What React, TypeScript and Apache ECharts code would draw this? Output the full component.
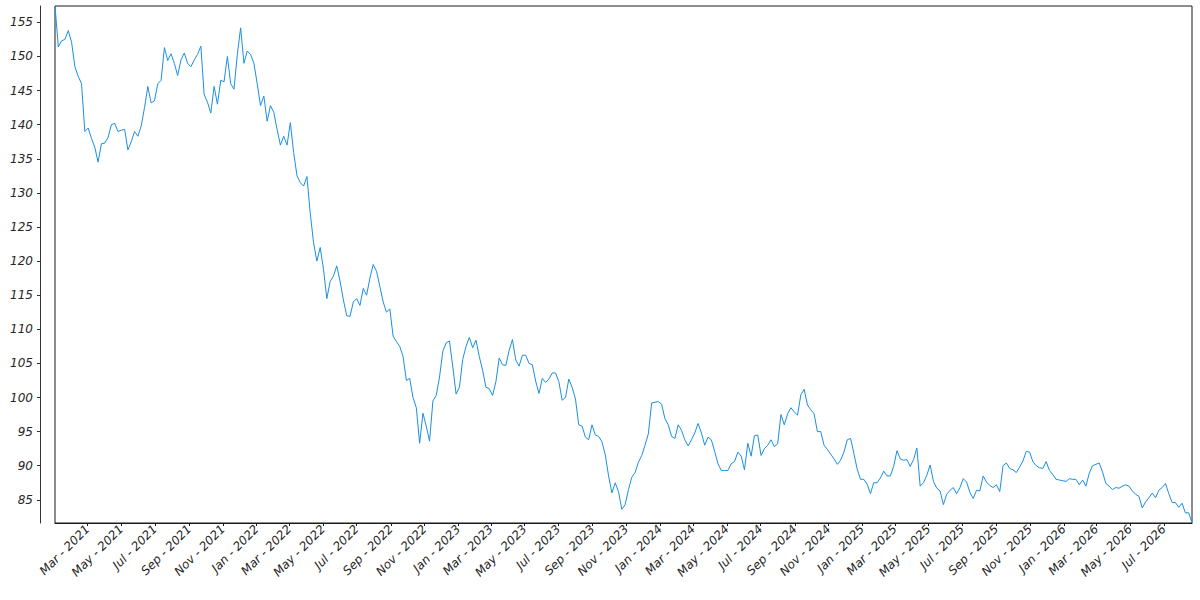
import React, { useEffect, useRef } from "react";
import * as echarts from "echarts";

// Series: one reading every 6 days starting 2021-01-01
const START_DATE = "2021-01-01";
const STEP_DAYS = 6;
const values: number[] = [
  157.4, 151.4, 152.3, 152.5, 153.8, 152.1, 148.5, 147.1, 146, 139,
  139.5, 138, 136.7, 134.5, 137.2, 137.3, 138.1, 140, 140.2, 139,
  139.2, 139.3, 136.3, 137.5, 139, 138.3, 139.8, 142.5, 145.6, 143.2,
  143.5, 146, 146.5, 151.3, 149.4, 150.4, 149, 147.2, 149.5, 150.5,
  149, 148.5, 149.5, 150.3, 151.5, 144.4, 143.3, 141.7, 145.6, 143,
  146.5, 146.3, 150, 146, 145.2, 150.3, 154.2, 149, 150.8, 150.3,
  149, 146, 142.8, 144.2, 140.5, 142.8, 141.8, 139.3, 137, 138.3,
  137, 140.3, 135.9, 132.5, 131.5, 131, 132.4, 127, 122.7, 120,
  122, 118.8, 114.5, 117, 117.8, 119.3, 117, 114.3, 112, 111.9,
  114, 114.5, 113.5, 116, 115, 117.5, 119.5, 118.5, 116.3, 114,
  112.5, 113, 109, 108.2, 107.5, 106, 102.5, 102.8, 100, 98.5,
  93.3, 97.7, 95.8, 93.6, 99.5, 100.3, 103, 106.8, 108, 108.3,
  104.5, 100.5, 101.5, 105.6, 107.5, 108.8, 107.3, 108.4, 106, 104,
  101.5, 101.3, 100.3, 102.3, 105.8, 104.8, 104.7, 106.9, 108.5, 105.5,
  104.6, 106.2, 106.2, 105, 104.8, 102.4, 100.6, 102.8, 102.2, 102.7,
  103.6, 103.6, 102.3, 99.6, 100, 102.7, 101.5, 99.8, 96, 95.8,
  94.2, 93.8, 96, 94.5, 94.3, 93.5, 91.6, 88.5, 86, 87.5,
  86.2, 83.6, 84.3, 86.5, 88.3, 89, 90.5, 91.5, 93, 94.7,
  99.2, 99.3, 99.4, 99, 96.9, 96, 94.3, 94, 96, 95.2,
  93.8, 92.9, 93.8, 94.8, 96.2, 94.8, 93, 94.2, 93.8, 92.1,
  90.3, 89.3, 89.3, 89.3, 90.3, 90.6, 92, 91.4, 89.4, 93.3,
  91.4, 94.4, 94.5, 91.5, 92.5, 93, 93.8, 92.8, 93.2, 97.5,
  96, 97.6, 98.5, 97.9, 97.4, 100.4, 101.2, 98.9, 98.2, 97.6,
  95, 95, 93, 92.4, 91.7, 91, 90.2, 90.8, 92, 93.8,
  94, 91.8, 89.5, 88, 88, 87.3, 85.9, 87.5, 87.5, 88.2,
  89.2, 88.5, 88.5, 89.9, 92.2, 91, 90.8, 90.9, 89.9, 90.9,
  92.6, 87, 87.5, 88.6, 90.1, 87.7, 86.7, 86.3, 84.3, 85.8,
  86.4, 86.8, 85.9, 86.8, 88.1, 87.6, 86.1, 85.2, 86.4, 86.3,
  88.5, 87.6, 87.1, 86.8, 87.2, 86.2, 90, 90.4, 89.6, 89.4,
  89, 89.8, 90.7, 92.1, 92, 90.6, 90, 89.7, 89.6, 90.6,
  89.3, 88.7, 88, 87.9, 87.8, 87.7, 88.1, 88, 88, 87.2,
  87.9, 87, 88.9, 90, 90.2, 90.4, 89.1, 87.4, 87, 86.5,
  86.8, 86.7, 87, 87.2, 87, 86.3, 85.8, 85.5, 83.8, 84.7,
  85.3, 86, 85.3, 86.4, 86.8, 87.4, 85.9, 84.6, 84.6, 83.9,
  84.5, 83.1, 83.1, 81.6,
];

// X tick labels (first day of every other month)
const xTickLabels: string[] = [
  "Mar - 2021", "May - 2021", "Jul - 2021", "Sep - 2021", "Nov - 2021",
  "Jan - 2022", "Mar - 2022", "May - 2022", "Jul - 2022", "Sep - 2022", "Nov - 2022",
  "Jan - 2023", "Mar - 2023", "May - 2023", "Jul - 2023", "Sep - 2023", "Nov - 2023",
  "Jan - 2024", "Mar - 2024", "May - 2024", "Jul - 2024", "Sep - 2024", "Nov - 2024",
  "Jan - 2025", "Mar - 2025", "May - 2025", "Jul - 2025", "Sep - 2025", "Nov - 2025",
  "Jan - 2026", "Mar - 2026", "May - 2026", "Jul - 2026",
];

// Y tick labels
const yTicks: number[] = [85, 90, 95, 100, 105, 110, 115, 120, 125, 130, 135, 140, 145, 150, 155];

const MONTHS = ["Jan", "Feb", "Mar", "Apr", "May", "Jun", "Jul", "Aug", "Sep", "Oct", "Nov", "Dec"];
const DAY = 24 * 3600 * 1000;

function labelToTs(label: string): number {
  const [m, y] = label.split(" - ");
  return Date.UTC(parseInt(y, 10), MONTHS.indexOf(m), 1);
}

function tsToLabel(ts: number): string {
  const d = new Date(ts);
  return `${MONTHS[d.getUTCMonth()]} - ${d.getUTCFullYear()}`;
}

export default function App() {
  const ref = useRef<HTMLDivElement>(null);

  useEffect(() => {
    if (!ref.current) return;
    const chart = echarts.init(ref.current, null, { renderer: "svg" });
    const start = Date.parse(START_DATE + "T00:00:00Z");
    const seriesData = values.map((v, i) => [start + i * STEP_DAYS * DAY, v]);
    const xTicks = xTickLabels.map(labelToTs);
    const textStyle = {
      color: "#262626",
      fontFamily: "DejaVu Sans",
      fontStyle: "italic" as const,
      fontSize: 12,
    };

    chart.setOption({
      animation: false,
      backgroundColor: "#ffffff",
      grid: {
        left: 55,
        right: 8,
        top: 6,
        bottom: 77,
        show: true,
        borderColor: "#1a1a1a",
        borderWidth: 1,
        backgroundColor: "transparent",
      },
      xAxis: {
        type: "value",
        min: start,
        max: start + (values.length - 1) * STEP_DAYS * DAY,
        splitLine: { show: false },
        axisLine: { show: true, lineStyle: { color: "#1a1a1a", width: 1 } },
        axisTick: {
          show: true,
          length: 3,
          customValues: xTicks,
          lineStyle: { color: "#1a1a1a" },
        },
        axisLabel: {
          ...textStyle,
          rotate: 45,
          margin: 4,
          customValues: xTicks,
          formatter: (v: number) => tsToLabel(v),
        },
      },
      yAxis: {
        type: "value",
        min: "dataMin",
        max: "dataMax",
        offset: 15,
        splitLine: { show: false },
        axisLine: { show: true, lineStyle: { color: "#333333", width: 1 } },
        axisTick: {
          show: true,
          length: 3,
          customValues: yTicks,
          lineStyle: { color: "#333333" },
        },
        axisLabel: {
          ...textStyle,
          margin: 7,
          customValues: yTicks,
        },
      },
      series: [
        {
          type: "line",
          data: seriesData,
          showSymbol: false,
          symbol: "none",
          lineStyle: { color: "#1a8fe3", width: 1 },
        },
      ],
    });

    return () => chart.dispose();
  }, []);

  return (
    <div
      ref={ref}
      style={{ position: "fixed", left: 0, top: 0, width: 1200, height: 600, background: "#fff" }}
    />
  );
}
